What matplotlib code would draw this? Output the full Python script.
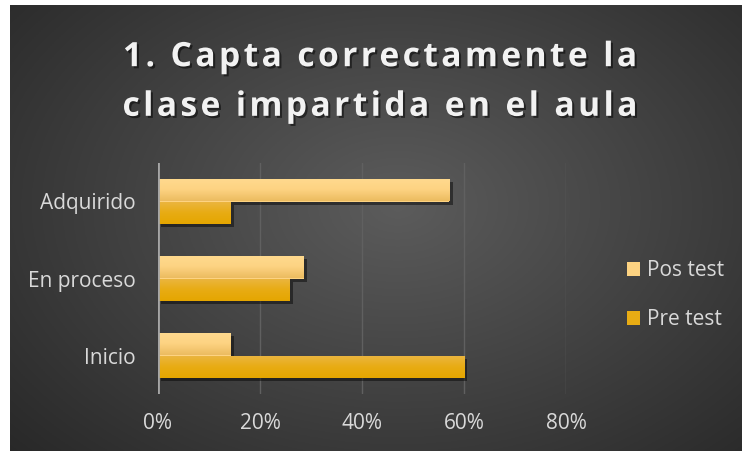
import numpy as np
import matplotlib
matplotlib.use("Agg")
import matplotlib.pyplot as plt
import matplotlib.patheffects as pe
from matplotlib.colors import LinearSegmentedColormap
from matplotlib.patches import Patch

# data (share of students, %)
categories = ["Inicio", "En proceso", "Adquirido"]
pos_test = [14.3, 28.6, 57.1]
pre_test = [60.0, 25.7, 14.3]
series_names = ["Pos test", "Pre test"]
x_ticks = [0, 20, 40, 60, 80]

title_lines = ["1. Capta correctamente la", "clase impartida en el aula"]

pos_colors = ["#ECBC60", "#FDD382", "#FFDA8F"]   # bottom -> top
pre_colors = ["#E5A600", "#E8AC14", "#EBB642"]
text_col = "#D9D9D9"

plt.rcParams["font.family"] = ["Open Sans", "DejaVu Sans"]

fig = plt.figure(figsize=(7.42, 4.53), dpi=100)
fig.patch.set_facecolor("white")

# dark radial background
bg = fig.add_axes([10 / 742, 2 / 453, 732 / 742, 446 / 453])
bg.set_axis_off()
gx, gy = np.meshgrid(np.linspace(0, 1, 400), np.linspace(0, 1, 250))
r = np.sqrt(((gx - 0.53) / 0.75) ** 2 + ((gy - 0.55) / 0.85) ** 2)
shade = np.clip(0.36 - 0.21 * r, 0.14, 0.36)
bg.imshow(np.dstack([shade] * 3), aspect="auto", extent=(0, 1, 0, 1), origin="lower")
bg.set_xlim(0, 1)
bg.set_ylim(0, 1)

ax = fig.add_axes([158 / 742, 59 / 453, 408 / 742, 231 / 453])
ax.patch.set_alpha(0)
ax.set_zorder(2)

y = np.arange(len(categories))
h = 0.292
shadow = [pe.SimplePatchShadow(offset=(2.5, -2.5), shadow_rgbFace="black", alpha=0.45), pe.Normal()]

bars_pos = ax.barh(y + h / 2, pos_test, height=h, color=pos_colors[1], zorder=3)
bars_pre = ax.barh(y - h / 2, pre_test, height=h, color=pre_colors[1], zorder=3)

for bars, cols in ((bars_pos, pos_colors), (bars_pre, pre_colors)):
    cmap = LinearSegmentedColormap.from_list("g", cols)
    grad = np.linspace(0, 1, 64).reshape(-1, 1)
    for b in bars:
        b.set_path_effects(shadow)
        x0, y0 = b.get_x(), b.get_y()
        im = ax.imshow(grad, cmap=cmap, aspect="auto", origin="lower",
                       extent=(x0, x0 + b.get_width(), y0, y0 + b.get_height()), zorder=4)
        im.set_clip_path(b)

ax.set_xlim(0, 80)
ax.set_ylim(-0.5, 2.5)
ax.set_xticks(x_ticks)
ax.set_xticklabels([f"{t}%" for t in x_ticks])
ax.set_yticks(y)
ax.set_yticklabels(categories)
ax.tick_params(length=0, colors=text_col, labelsize=15)
ax.tick_params(axis="y", pad=16)
ax.tick_params(axis="x", pad=14)
ax.grid(axis="x", color="#606060", lw=1)
ax.set_axisbelow(True)
for s in ax.spines.values():
    s.set_visible(False)
ax.axvline(0, color="#A6A6A6", lw=2, zorder=5)

handles = [Patch(facecolor=pos_colors[1], label=series_names[0]),
           Patch(facecolor=pre_colors[1], label=series_names[1])]
leg = fig.legend(handles=handles, loc="center left", bbox_to_anchor=(608 / 742, (453 - 295) / 453),
                 frameon=False, fontsize=15, labelcolor=text_col, handlelength=0.65,
                 handleheight=0.65, handletextpad=0.3, labelspacing=1.35)

# title with expanded letter spacing (hair spaces between characters)
spaced = "\n".join("\u200a".join(line) for line in title_lines)
fig.text(380 / 742, (453 - 82) / 453, spaced, ha="center", va="center", fontsize=24.2,
         fontweight="bold", color="#F2F2F2", linespacing=1.6,
         path_effects=[pe.SimplePatchShadow(offset=(1.5, -1.5), shadow_rgbFace="black", alpha=0.5), pe.Normal()])

fig.savefig("out.png", dpi=100)
